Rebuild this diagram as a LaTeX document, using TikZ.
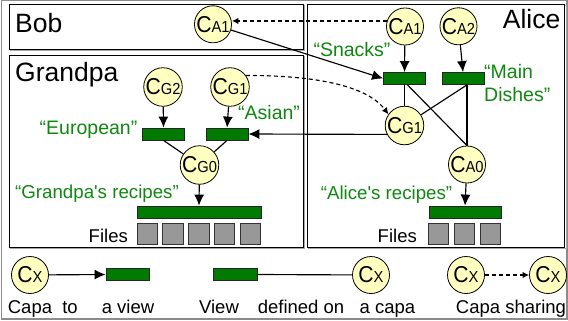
\documentclass[tikz,border=0pt]{standalone}
\usepackage{fontspec}
\usepackage{graphicx}
\setmainfont{Liberation Sans}
\newfontfamily\plainsans{Liberation Sans}
\usetikzlibrary{arrows.meta,calc}
\definecolor{capyellow}{RGB}{255,255,192}
\definecolor{viewgreen}{RGB}{0,122,0}
\definecolor{labelgreen}{RGB}{16,136,16}
\definecolor{filegray}{RGB}{152,152,152}
\newcommand{\capname}[1]{\scalebox{0.92}[1]{{\fontsize{23}{23}\selectfont C}{\fontsize{16}{16}\selectfont #1}}}
\begin{document}
\begin{tikzpicture}[x=1pt,y=-1pt,
  capa/.style={circle,draw,fill=capyellow,minimum size=37pt,inner sep=0pt,line width=0.8pt},
  viewbar/.style={rectangle,draw=black!85,fill=viewgreen,minimum width=42pt,minimum height=12pt,inner sep=0pt,line width=0.8pt},
  filebox/.style={rectangle,draw=black!80,fill=filegray,minimum width=20.5pt,minimum height=21pt,inner sep=0pt,line width=0.8pt},
  glabel/.style={text=labelgreen,font=\fontsize{19.5}{23.3}\selectfont,inner sep=0pt},
  blabel/.style={font=\fontsize{18.5}{22}\selectfont,inner sep=0pt},
  boxtitle/.style={font=\fontsize{26.5}{30}\selectfont,inner sep=0pt},
  boxframe/.style={draw=black,line width=0.9pt},
  shadowline/.style={draw=black!35,line width=1pt},
  conn/.style={line width=1.15pt},
  arr/.style={conn,-{Latex[length=11pt,width=10pt]}},
  sharearrow/.style={line width=1.15pt,dash pattern=on 4pt off 3pt,-{Latex[length=6.5pt,width=6.5pt]}},
]
\useasboundingbox (0,0) rectangle (568,321);
% outer frame
\draw[draw=black!45,line width=1.2pt] (1.2,0.8) rectangle (567,319);
% boxes
\draw[shadowline] (10.8,5.3) rectangle (304.3,50.3);
\draw[shadowline] (10.8,56.3) rectangle (304.3,248.3);
\draw[shadowline] (308.3,5.3) rectangle (566,248.3);
\draw[boxframe,fill=white] (9.5,4) rectangle (303,49);
\draw[boxframe,fill=white] (9.5,55) rectangle (303,247);
\draw[boxframe,fill=white] (307,4) rectangle (564.7,247);
\node[boxtitle,anchor=base west] (tbob) at (15,32.5) {Bob};
\node[boxtitle,anchor=base west] (tgrandpa) at (15,81.5) {Grandpa};
\node[boxtitle,anchor=base east] (talice) at (560.5,28.3) {Alice};

% capas
\node[capa] (bca1) at (213,24.3) {\capname{A1}};
\node[capa] (cg2) at (163,87) {\capname{G2}};
\node[capa] (cg1) at (230,87) {\capname{G1}};
\node[capa] (cg0) at (199.5,165) {\capname{G0}};
\node[capa] (aca1) at (405,26.5) {\capname{A1}};
\node[capa] (aca2) at (458.5,26.3) {\capname{A2}};
\node[capa] (acg1) at (404.5,125.5) {\capname{G1}};
\node[capa] (aca0) at (467,164.5) {\capname{A0}};

% views
\node[viewbar] (european) at (163.5,134) {};
\node[viewbar] (asian) at (227,134) {};
\node[viewbar,minimum width=124pt] (grecipes) at (199,212) {};
\node[viewbar] (snacks) at (404.5,78.5) {};
\node[viewbar] (mains) at (463,78.5) {};
\node[viewbar,minimum width=72pt] (arecipes) at (465,212) {};

% files
\foreach \i in {0,...,4} \node[filebox] (gf\i) at (147.2+25.8*\i,234) {};
\foreach \i in {0,1,2} \node[filebox] (af\i) at (438.5+26*\i,234) {};
\node[blabel,anchor=base east] (gfiles) at (128,242) {Files};
\node[blabel,anchor=base east] (afiles) at (417,242.5) {Files};

% green labels
\node[glabel,anchor=base east] (leu) at (137.5,135) {“European”};
\node[glabel,anchor=base west] (las) at (238,119.3) {“Asian”};
\node[glabel,anchor=base] (lgr) at (97,198.5) {{\plainsans\fontsize{18.7}{22}\selectfont “Grandpa's recipes”}};
\node[glabel,anchor=base] (lsn) at (352,56.7) {“Snacks”};
\node[glabel,anchor=north west,align=left] (lmd) at (484,64) {“Main\\Dishes”};
\node[glabel,anchor=base] (lar) at (386.5,199.5) {{\plainsans\fontsize{18.7}{22}\selectfont “Alice's recipes”}};

% connections
\draw[sharearrow] (aca1.163) -- (aca1.163 -| bca1.east);
\draw[arr] (bca1) -- (snacks.west);
\draw[sharearrow] (cg1.36) .. controls +(95,0) and +(-15,-20) .. (acg1.145);
\draw[arr] (cg2) -- (european.north);
\draw[arr] (cg1) -- (asian.north);
\draw[conn] (european.south) -- (cg0);
\draw[conn] (asian.south) -- (cg0);
\draw[arr] (cg0) -- (grecipes.north);
\draw[arr] (acg1.207) -- (asian.east);
\draw[arr] (aca1) -- (snacks.north);
\draw[arr] (aca2) -- (mains.north);
\coordinate (mp) at (mains.south -| aca0);
\draw[conn] (snacks.south) -- (acg1);
\draw[conn] (mp) -- (acg1);
\draw[conn] (mp) -- (aca0.north);
\draw[conn] ($(snacks.south)+(3,0)$) -- (aca0.north);
\draw[arr] (aca0) -- (arecipes.north);

% legend
\node[capa] (lx1) at (30,275) {\capname{X}};
\node[viewbar,minimum width=43pt] (lbar1) at (127.5,274.5) {};
\node[viewbar,minimum width=44pt] (lbar2) at (235,274.5) {};
\node[capa] (lx2) at (371,275) {\capname{X}};
\node[capa] (lx3) at (466,275) {\capname{X}};
\node[capa] (lx4) at (548,275) {\capname{X}};
\draw[arr] (lx1) -- (lbar1.west);
\draw[conn] (lbar2.east) -- (lx2);
\draw[sharearrow] (lx3) -- (lx4);
\node[blabel,anchor=base] (t1) at (30,313) {Capa};
\node[blabel,anchor=base] (t2) at (70,313) {to};
\node[blabel,anchor=base] (t3) at (128,313) {a view};
\node[blabel,anchor=base] (t4) at (219,313) {View};
\node[blabel,anchor=base] (t5) at (301,313) {defined on};
\node[blabel,anchor=base] (t6) at (387.5,313) {a capa};
\node[blabel,anchor=base] (t7) at (511,313) {Capa sharing};
\end{tikzpicture}
\end{document}
